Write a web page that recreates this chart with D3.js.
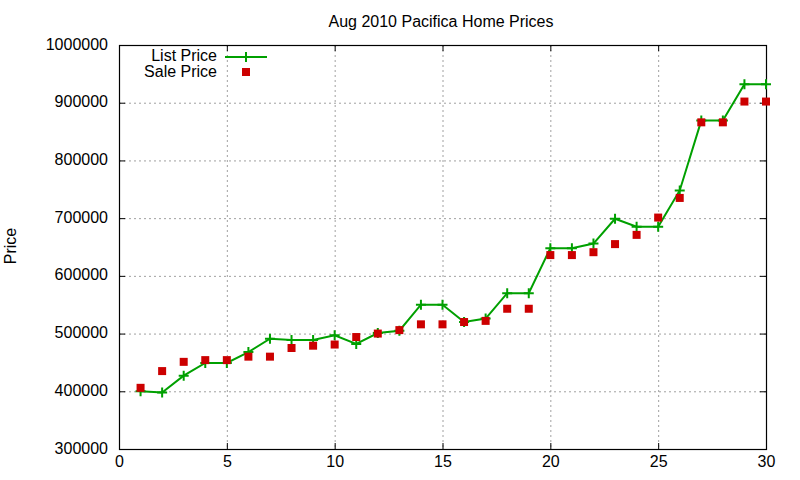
<!DOCTYPE html>
<html><head><meta charset="utf-8">
<script src="https://cdn.jsdelivr.net/npm/d3@7"></script>
<style>body{margin:0;background:#fff}svg{display:block;font-family:"Liberation Sans",Arial,sans-serif}</style>
</head><body><svg id="c" width="800" height="480"></svg>
<script>
const days = d3.range(1, 31);
const listPrice = [400000,398000,427000,449000,449000,468000,491000,489000,489000,497000,482000,501000,505000,550000,550000,520000,526000,570000,570000,648000,648000,656000,699000,685000,685000,748000,869000,869000,932000,932000];
const salePrice = [406000,435000,451000,454000,454000,460000,460000,475000,479000,481000,494000,500000,506000,516000,516000,520000,522000,543000,543000,636000,636000,641000,655000,671000,701000,735000,866000,866000,902000,902000];
const xTicks = [0,5,10,15,20,25,30];
const yTicks = [300000,400000,500000,600000,700000,800000,900000,1000000];
const title = "Aug 2010 Pacifica Home Prices";
const yLabel = "Price";
const seriesNames = ["List Price","Sale Price"];

const svg = d3.select("#c");
const L=119, R=766, T=45, B=449;
const x = d3.scaleLinear().domain([0,30]).range([L,R]);
const y = d3.scaleLinear().domain([300000,1000000]).range([B,T]);
const green="#00a000", red="#cc0000";
const fs="16px";

// grid
const g = svg.append("g");
g.selectAll(".gx").data(xTicks.slice(1,-1)).join("line")
 .attr("x1",d=>x(d)+0.5).attr("x2",d=>x(d)+0.5).attr("y1",T).attr("y2",B)
 .attr("stroke","#a0a0a0").attr("stroke-width",1).attr("stroke-dasharray","2,3");
g.selectAll(".gy").data(yTicks.slice(1,-1)).join("line")
 .attr("y1",d=>y(d)+0.5).attr("y2",d=>y(d)+0.5).attr("x1",L).attr("x2",R)
 .attr("stroke","#a0a0a0").attr("stroke-width",1).attr("stroke-dasharray","2,3");

// axes (inward ticks, mirrored)
const ax = svg.append("g").attr("transform",`translate(0,${B})`)
 .call(d3.axisBottom(x).tickValues(xTicks).tickSize(-6).tickPadding(7).tickFormat(d3.format("d")));
const axT = svg.append("g").attr("transform",`translate(0,${T})`)
 .call(d3.axisTop(x).tickValues(xTicks).tickSize(-6).tickFormat(""));
const ay = svg.append("g").attr("transform",`translate(${L},0)`)
 .call(d3.axisLeft(y).tickValues(yTicks).tickSize(-6).tickPadding(11).tickFormat(d3.format("d")));
const ayR = svg.append("g").attr("transform",`translate(${R},0)`)
 .call(d3.axisRight(y).tickValues(yTicks).tickSize(-6).tickFormat(""));
[ax,axT,ay,ayR].forEach(a=>{
  a.select(".domain").remove();
  a.selectAll("line").attr("stroke","#000");
  a.selectAll("text").attr("font-size",fs).attr("fill","#000").attr("font-family","Liberation Sans, Arial, sans-serif");
});
ax.selectAll("text").attr("dy","0.71em");
ay.selectAll("text").attr("dy","0.25em");
svg.append("rect").attr("x",L+0.5).attr("y",T+0.5).attr("width",R-L).attr("height",B-T)
 .attr("fill","none").attr("stroke","#000").attr("stroke-width",1.2);

// title & label
svg.append("text").attr("x",441).attr("y",27).attr("text-anchor","middle")
 .attr("font-size",fs).text(title);
svg.append("text").attr("transform","translate(16,246) rotate(-90)").attr("text-anchor","middle")
 .attr("font-size",fs).text(yLabel);

// list line
const line = d3.line().x((d,i)=>x(days[i])).y(d=>y(d));
svg.append("path").datum(listPrice).attr("d",line).attr("fill","none")
 .attr("stroke",green).attr("stroke-width",2);
const plus = (sel)=>sel.append("path").attr("d","M-5,0H5M0,-5V5").attr("stroke",green).attr("stroke-width",2);
svg.selectAll(".lp").data(listPrice).join("g").attr("transform",(d,i)=>`translate(${x(days[i])},${y(d)})`).call(plus);

// sale squares
svg.selectAll(".sp").data(salePrice).join("rect")
 .attr("x",(d,i)=>x(days[i])-4).attr("y",d=>y(d)-4).attr("width",8).attr("height",8).attr("fill",red);

// legend
const lg = svg.append("g");
lg.append("text").attr("x",217).attr("y",61).attr("text-anchor","end").attr("font-size",fs).text(seriesNames[0]);
lg.append("text").attr("x",217).attr("y",77).attr("text-anchor","end").attr("font-size",fs).text(seriesNames[1]);
lg.append("line").attr("x1",225).attr("x2",267).attr("y1",57).attr("y2",57).attr("stroke",green).attr("stroke-width",2);
lg.append("g").attr("transform","translate(246,57)").call(plus);
lg.append("rect").attr("x",242).attr("y",68).attr("width",8).attr("height",8).attr("fill",red);
</script></body></html>
